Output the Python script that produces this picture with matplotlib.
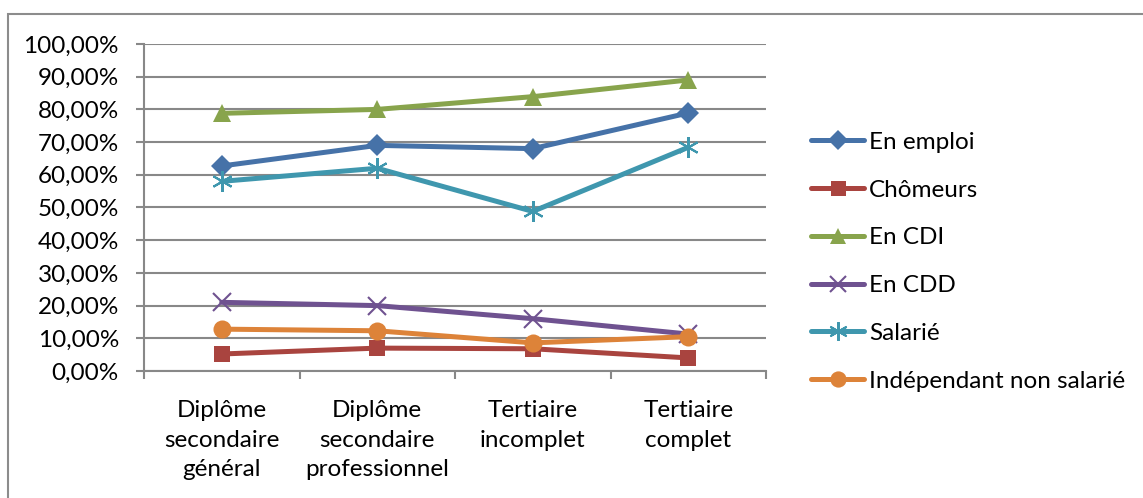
import matplotlib
matplotlib.use("Agg")
import matplotlib.pyplot as plt
from matplotlib.patches import Rectangle
from matplotlib.ticker import FuncFormatter, FixedLocator

plt.rcParams['font.family'] = ['Lato', 'DejaVu Sans']

# categories (niveau de diplôme)
categories = ["Diplôme\nsecondaire\ngénéral", "Diplôme\nsecondaire\nprofessionnel",
              "Tertiaire\nincomplet", "Tertiaire\ncomplet"]

# valeurs en %
en_emploi = [62.7, 69.0, 68.0, 78.9]
chomeurs = [5.2, 7.0, 6.8, 4.0]
en_cdi = [78.8, 80.0, 83.9, 89.0]
en_cdd = [21.0, 20.0, 16.0, 11.3]
salarie = [58.0, 62.0, 48.8, 68.4]
independant = [12.8, 12.3, 8.6, 10.5]

series = [
    ("En emploi", en_emploi, "#4672A8", "D", 11),
    ("Chômeurs", chomeurs, "#A9443F", "s", 12),
    ("En CDI", en_cdi, "#88A44C", "^", 13),
    ("En CDD", en_cdd, "#6F5290", "x", 13),
    ("Salarié", salarie, "#3F97AE", (6, 2, 0), 15),
    ("Indépendant non salarié", independant, "#DD8339", "o", 13),
]

fig = plt.figure(figsize=(11.43, 4.98), dpi=100)
W, H = 1143, 498
# cadre du graphique
fig.patches.append(Rectangle((8 / W, -0.1), 1.2, (H - 14) / H + 0.1, transform=fig.transFigure,
                             fill=False, edgecolor="#8c8c8c", linewidth=1.5))

ax = fig.add_axes([144 / W, (H - 371) / H, (766 - 144) / W, (371 - 44) / H])

x = list(range(len(categories)))
for name, vals, col, mk, ms in series:
    mew = 1.5 if mk in ("x",) or isinstance(mk, tuple) else 0
    ax.plot(x, vals, color=col, linewidth=3.6, marker=mk, markersize=ms,
            markerfacecolor=col, markeredgecolor=col, markeredgewidth=mew, label=name,
            solid_capstyle="round", solid_joinstyle="round")

ax.set_xlim(-0.5, 3.5)
ax.set_ylim(0, 100)
ax.set_yticks(range(0, 101, 10))
ax.yaxis.set_major_formatter(FuncFormatter(lambda v, p: f"{v:.2f}%".replace(".", ",")))
ax.yaxis.grid(True, color="#888888", linewidth=1.5)
ax.set_axisbelow(True)

ax.set_xticks(x)
ax.set_xticklabels(categories, linespacing=1.5)
ax.xaxis.set_minor_locator(FixedLocator([-0.5, 0.5, 1.5, 2.5, 3.5]))
ax.tick_params(axis="x", which="major", length=0, pad=21, labelsize=17.5)
ax.tick_params(axis="x", which="minor", length=6, width=1.5, color="#888888", direction="out")
ax.tick_params(axis="y", length=6, width=1.5, color="#888888", pad=12, labelsize=17.5)

for s in ["top", "right"]:
    ax.spines[s].set_visible(False)
for s in ["left", "bottom"]:
    ax.spines[s].set_color("#888888")
    ax.spines[s].set_linewidth(1.5)

leg = fig.legend(loc="upper left", bbox_to_anchor=(789 / W, 1 - 110 / H), frameon=False,
                 fontsize=17.5, handlelength=2.2, handletextpad=0.2, labelspacing=1.1,
                 markerscale=0.9)

fig.savefig("out.png", dpi=100)
